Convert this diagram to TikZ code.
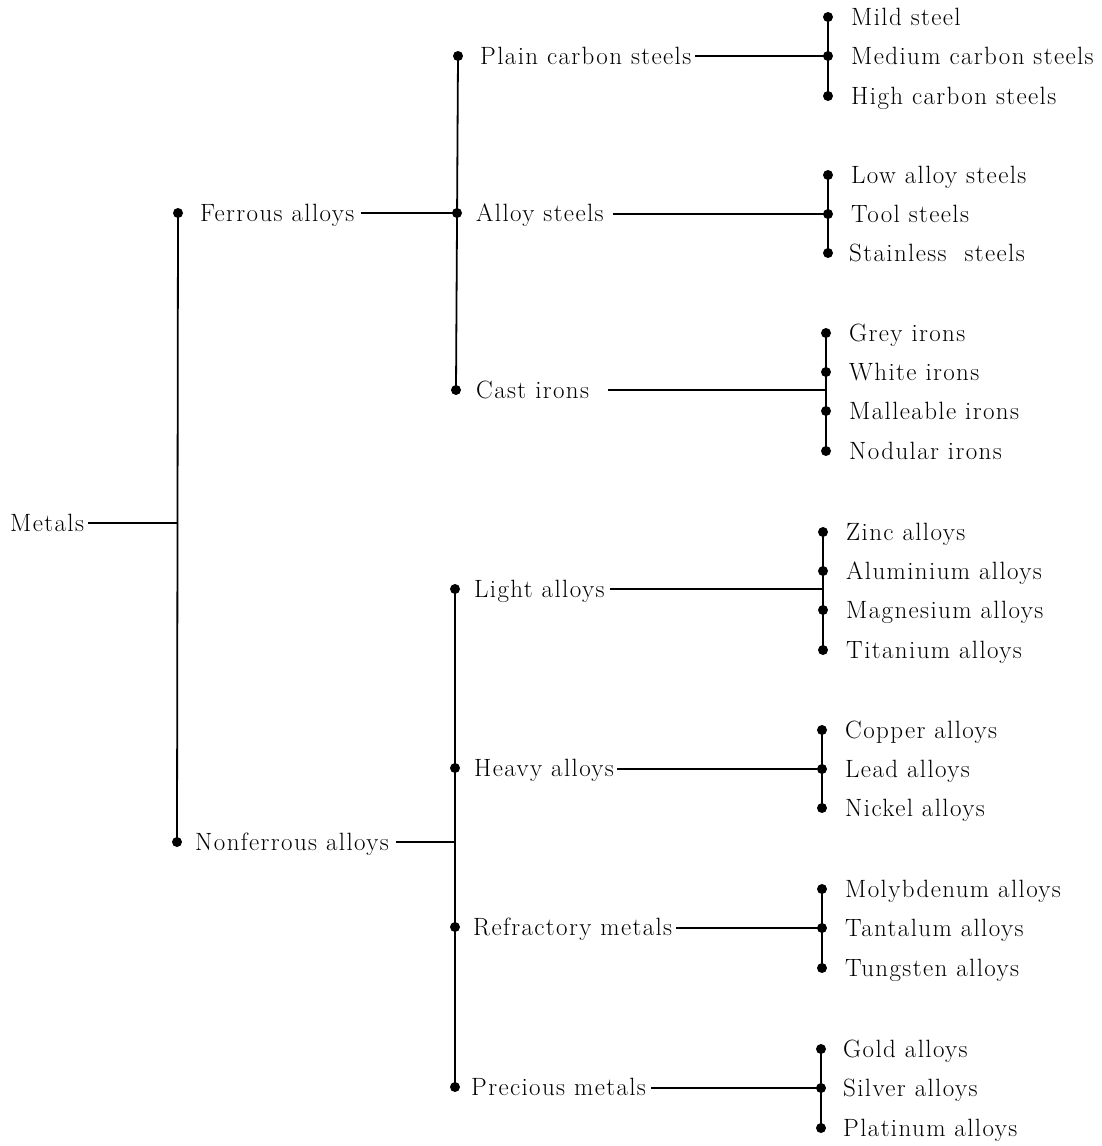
\documentclass[tikz,border=0pt]{standalone}
\usepackage{fontspec}
\setmainfont{Latin Modern Roman}[LetterSpace=5.5]
\begin{document}
\begin{tikzpicture}[x=1pt,y=-1pt,
  lbl/.style={anchor=base west,yshift=-8.5pt,inner xsep=3pt,inner ysep=0pt,font=\fontsize{25}{30}\selectfont},
  ln/.style={line width=1.8pt},
  dotm/.style={fill=black}]
\useasboundingbox (0,0) rectangle (1102,1146);
% root
\node[lbl] (metals) at (7,523) {Metals};
\coordinate (j0) at (178,523);
% level 1
\coordinate (dfer) at (178,213);
\coordinate (dnon) at (177,842);
\node[lbl] (fer) at (197,213) {Ferrous alloys};
\node[lbl] (non) at (192,842) {Nonferrous alloys};
% level 2 ferrous
\coordinate (dpcs) at (458,56);
\coordinate (das) at (457,213);
\coordinate (dci) at (456,390);
\node[lbl] (pcs) at (477,56) {Plain carbon steels};
\node[lbl] (as) at (473,213) {Alloy steels};
\node[lbl] (ci) at (473,390) {Cast irons};
% level 2 nonferrous
\coordinate (dla) at (455,589);
\coordinate (dha) at (455,768);
\coordinate (drm) at (455,927);
\coordinate (dpm) at (455,1087);
\coordinate (jnon) at (455,842);
\node[lbl] (la) at (471,589) {Light alloys};
\node[lbl] (ha) at (471,768) {Heavy alloys};
\node[lbl] (rm) at (470,927) {Refractory metals};
\node[lbl] (pm) at (468,1087) {Precious metals};
% leaves: plain carbon
\coordinate (g1a) at (828,17); \coordinate (g1b) at (828,56); \coordinate (g1c) at (828,96);
\node[lbl] (l1a) at (848,17) {Mild steel};
\node[lbl] (l1b) at (848,56) {Medium carbon steels};
\node[lbl] (l1c) at (848,96) {High carbon steels};
% alloy steels
\coordinate (g2a) at (828,175); \coordinate (g2b) at (828,214); \coordinate (g2c) at (828,253);
\node[lbl] (l2a) at (848,175) {Low alloy steels};
\node[lbl] (l2b) at (848,214) {Tool steels};
\node[lbl] (l2c) at (846,253) {Stainless\ \ steels};
% cast irons
\coordinate (g3a) at (826,333); \coordinate (g3b) at (826,372); \coordinate (g3c) at (826,411); \coordinate (g3d) at (826,451);
\coordinate (j3) at (826,390);
\node[lbl] (l3a) at (846,333) {Grey irons};
\node[lbl] (l3b) at (846,372) {White irons};
\node[lbl] (l3c) at (846,411) {Malleable irons};
\node[lbl] (l3d) at (846,451) {Nodular irons};
% light alloys
\coordinate (g4a) at (823,532); \coordinate (g4b) at (823,571); \coordinate (g4c) at (823,610); \coordinate (g4d) at (823,650);
\coordinate (j4) at (823,589);
\node[lbl] (l4a) at (843,532) {Zinc alloys};
\node[lbl] (l4b) at (843,571) {Aluminium alloys};
\node[lbl] (l4c) at (843,610) {Magnesium alloys};
\node[lbl] (l4d) at (843,650) {Titanium alloys};
% heavy alloys
\coordinate (g5a) at (822,730); \coordinate (g5b) at (822,769); \coordinate (g5c) at (822,808);
\node[lbl] (l5a) at (842,730) {Copper alloys};
\node[lbl] (l5b) at (842,769) {Lead alloys};
\node[lbl] (l5c) at (842,808) {Nickel alloys};
% refractory
\coordinate (g6a) at (822,889); \coordinate (g6b) at (822,928); \coordinate (g6c) at (822,968);
\node[lbl] (l6a) at (842,889) {Molybdenum alloys};
\node[lbl] (l6b) at (842,928) {Tantalum alloys};
\node[lbl] (l6c) at (842,968) {Tungsten alloys};
% precious
\coordinate (g7a) at (821,1049); \coordinate (g7b) at (821,1088); \coordinate (g7c) at (821,1128);
\node[lbl] (l7a) at (840,1049) {Gold alloys};
\node[lbl] (l7b) at (840,1088) {Silver alloys};
\node[lbl] (l7c) at (840,1128) {Platinum alloys};
% connectors
\draw[ln] ([xshift=1pt]metals.east |- j0) -- (j0);
\draw[ln] (dfer) -- (dnon);
\draw[ln] ([xshift=3pt]fer.east |- das) -- (das);
\draw[ln] ([xshift=4pt]non.east |- jnon) -- (jnon);
\draw[ln] (dpcs) -- (dci);
\draw[ln] (dla) -- (dpm);
\draw[ln] ([xshift=1pt]pcs.east |- g1b) -- (g1b);
\draw[ln] ([xshift=6pt]as.east |- g2b) -- (g2b);
\draw[ln] ([xshift=16pt]ci.east |- j3) -- (j3);
\draw[ln] ([xshift=2pt]la.east |- j4) -- (j4);
\draw[ln] (ha.east |- g5b) -- (g5b);
\draw[ln] ([xshift=1pt]rm.east |- g6b) -- (g6b);
\draw[ln] ([xshift=2pt]pm.east |- g7b) -- (g7b);
\draw[ln] (g1a) -- (g1c);
\draw[ln] (g2a) -- (g2c);
\draw[ln] (g3a) -- (g3d);
\draw[ln] (g4a) -- (g4d);
\draw[ln] (g5a) -- (g5c);
\draw[ln] (g6a) -- (g6c);
\draw[ln] (g7a) -- (g7c);
% dots
\foreach \p in {dfer,dnon,dpcs,das,dci,dla,dha,drm,dpm,
  g1a,g1b,g1c,g2a,g2b,g2c,g3a,g3b,g3c,g3d,g4a,g4b,g4c,g4d,
  g5a,g5b,g5c,g6a,g6b,g6c,g7a,g7b,g7c}
  \fill[dotm] (\p) circle (5);
\end{tikzpicture}
\end{document}
